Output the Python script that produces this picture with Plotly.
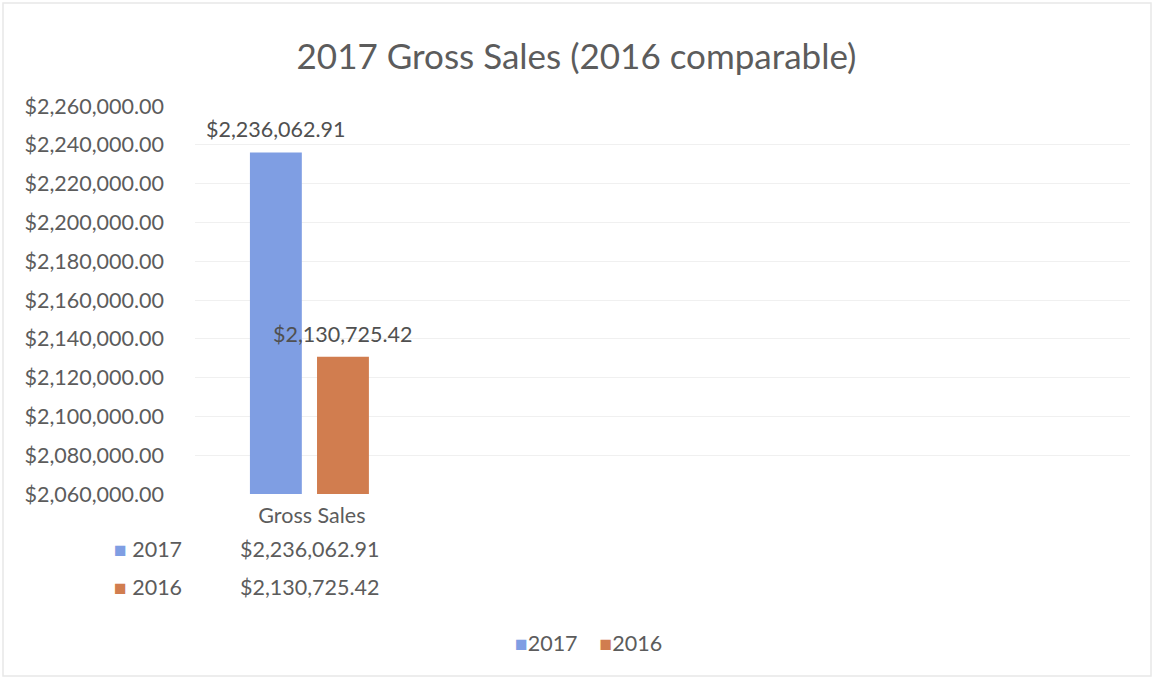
import plotly.graph_objects as go

# Chart data
categories = ["Gross Sales"]
series_names = ["2017", "2016"]
sales_2017 = [2236062.91]
sales_2016 = [2130725.42]
series_values = [sales_2017, sales_2016]
series_colors = ["#7F9EE3", "#D17D4F"]

title_text = "2017 Gross Sales (2016 comparable)"
y_min, y_max, y_step = 2060000, 2260000, 20000

FONT = "Lato"
TEXT = "#5c5c5c"
FS = 21.5

W, H = 1153, 680
M_L, M_R, M_T, M_B = 195, 23, 106, 186
plot_w = W - M_L - M_R
plot_h = H - M_T - M_B


def px_x(px):
    """Pixel column -> paper x."""
    return (px - M_L) / plot_w


def px_y(py):
    """Pixel row -> paper y."""
    return (H - M_B - py) / plot_h


# bar geometry within a category slot (4 slots across the axis)
bar_width = 0.222
bar_offsets = [-0.265, 0.022]

fig = go.Figure()
for name, vals, color, off in zip(series_names, series_values, series_colors, bar_offsets):
    fig.add_trace(go.Bar(
        x=list(range(len(categories))),
        y=vals,
        name=name,
        marker=dict(color=color, line=dict(width=0)),
        width=bar_width,
        offset=off,
        showlegend=False,
    ))


def money(v):
    return "${:,.2f}".format(v)


def key(color, size):
    return f"<span style='color:{color};font-size:{size}px'>■</span>"


annotations = []
# value labels above the bars
for vals, off in zip(series_values, bar_offsets):
    for i, v in enumerate(vals):
        annotations.append(dict(
            x=i + off + bar_width / 2, y=v, xref="x", yref="y",
            text=money(v), showarrow=False, yanchor="bottom", yshift=8,
            font=dict(family=FONT, size=FS, color="#505050"),
        ))

# data table under the axis
row_px = [549, 587]
for name, vals, color, ypx in zip(series_names, series_values, series_colors, row_px):
    yp = px_y(ypx)
    annotations.append(dict(
        x=px_x(184), y=yp, xref="paper", yref="paper",
        text=f"{key(color, 21)} {name}", showarrow=False,
        xanchor="right", yanchor="middle",
        font=dict(family=FONT, size=FS, color=TEXT),
    ))
    for i, v in enumerate(vals):
        annotations.append(dict(
            x=i - 0.01, y=yp, xref="x", yref="paper",
            text=money(v), showarrow=False, xanchor="center", yanchor="middle",
            font=dict(family=FONT, size=FS, color=TEXT),
        ))

# series key below the table
legend_text = "    ".join(f"{key(c, 21)}{n}" for n, c in zip(series_names, series_colors))
annotations.append(dict(
    x=px_x(588), y=px_y(643), xref="paper", yref="paper",
    text=legend_text, showarrow=False, xanchor="center", yanchor="middle",
    font=dict(family=FONT, size=FS, color=TEXT),
))

fig.update_layout(
    width=W, height=H,
    margin=dict(l=M_L, r=M_R, t=M_T, b=M_B),
    paper_bgcolor="white", plot_bgcolor="white",
    title=dict(text=title_text, x=0.5, xref="container", xanchor="center",
               y=1 - 57 / H, yanchor="middle",
               font=dict(family=FONT, size=35, color=TEXT)),
    barmode="overlay",
    showlegend=False,
    annotations=annotations,
    font=dict(family=FONT, color=TEXT),
)

fig.update_yaxes(
    range=[y_min, y_max], dtick=y_step, tick0=y_min,
    tickformat="$,.2f", showgrid=True, gridcolor="#f0f0f0", gridwidth=1,
    zeroline=False, showline=False, ticks="", ticklabelstandoff=30,
    tickfont=dict(family=FONT, size=FS, color=TEXT),
)
fig.update_xaxes(
    range=[-0.5, 3.5], tickvals=list(range(len(categories))), ticktext=categories,
    showgrid=False, zeroline=False, showline=False, ticks="",
    ticklabelstandoff=6,
    tickfont=dict(family=FONT, size=FS, color=TEXT),
)

# faint outline of the chart area
fig.add_shape(type="rect", xref="paper", yref="paper",
              x0=px_x(3), x1=px_x(W - 2),
              y0=px_y(H - 4), y1=px_y(3),
              line=dict(color="#e8e8e8", width=1.5), layer="below")

fig.write_html("out.html")
